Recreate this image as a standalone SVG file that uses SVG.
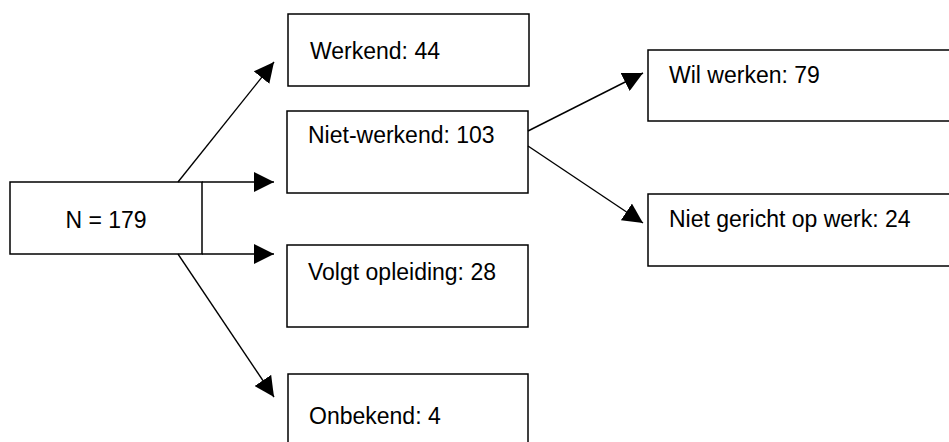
<svg xmlns="http://www.w3.org/2000/svg" width="949" height="442" viewBox="0 0 949 442">
<style>
.box{fill:#fff;stroke:#000;stroke-width:1.5}
.lbl{font-family:"Liberation Sans",Arial,sans-serif;font-size:23px;fill:#000}
.con{stroke:#000;stroke-width:1.4;fill:none;marker-end:url(#ah)}
</style>
<defs>
<marker id="ah" viewBox="0 0 20 20" refX="20" refY="10" markerWidth="20" markerHeight="20" markerUnits="userSpaceOnUse" orient="auto">
<path d="M0,0 L20,10 L0,20 z" fill="#000"/>
</marker>
</defs>
<rect width="949" height="442" fill="#fff"/>
<g id="n-total"><rect class="box" x="10" y="182" width="192" height="72"/><text class="lbl" x="106" y="228" text-anchor="middle">N = 179</text></g>
<g id="n-werkend"><rect class="box" x="288" y="14" width="241" height="72"/><text class="lbl" x="310" y="59">Werkend: 44</text></g>
<g id="n-nietwerkend"><rect class="box" x="287" y="111" width="241" height="82"/><text class="lbl" x="308" y="143">Niet-werkend: 103</text></g>
<g id="n-opleiding"><rect class="box" x="287" y="245" width="241" height="82"/><text class="lbl" x="308" y="280">Volgt opleiding: 28</text></g>
<g id="n-onbekend"><rect class="box" x="288" y="374" width="240" height="90"/><text class="lbl" x="309" y="424">Onbekend: 4</text></g>
<g id="n-wilwerken"><rect class="box" x="648" y="50" width="320" height="71"/><text class="lbl" x="669" y="83">Wil werken: 79</text></g>
<g id="n-nietgericht"><rect class="box" x="648" y="194" width="320" height="72"/><text class="lbl" x="669" y="227">Niet gericht op werk: 24</text></g>
<g id="connectors">
<line class="con" x1="178" y1="182" x2="274" y2="62"/>
<line class="con" x1="202" y1="182" x2="274" y2="182"/>
<line class="con" x1="202" y1="254" x2="274" y2="254"/>
<line class="con" x1="178" y1="254" x2="274" y2="397"/>
<line class="con" x1="528" y1="131" x2="643" y2="73"/>
<line class="con" x1="528" y1="146" x2="643" y2="223"/>
</g>
</svg>
